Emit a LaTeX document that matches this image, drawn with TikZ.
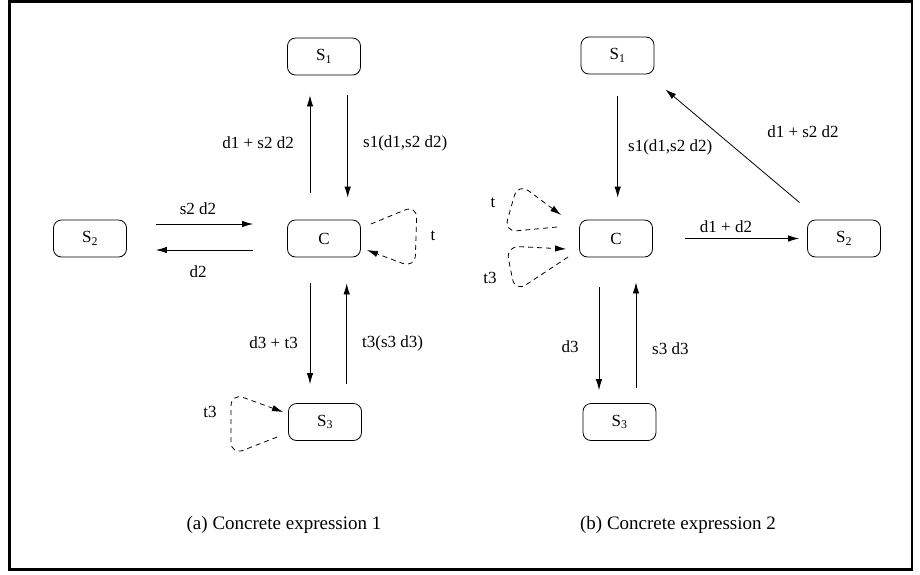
\documentclass[tikz,border=0pt]{standalone}
\usepackage{fontspec}
\setmainfont{Liberation Serif}
\usetikzlibrary{arrows.meta,calc}
\begin{document}
\begin{tikzpicture}[x=1pt,y=-1pt,
  every node/.style={font=\fontsize{17}{20}\selectfont},
  state/.style={draw,line width=0.8pt,rounded corners=8pt,minimum width=73pt,minimum height=37pt,inner sep=0pt},
  arr/.style={line width=0.8pt,-{Latex[length=11pt,width=6.5pt]}},
  loopline/.style={line width=0.8pt,dash pattern=on 5pt off 4pt,rounded corners=13pt,-{Latex[length=11pt,width=6.5pt]}},
  lbl/.style={inner sep=0pt},
  captext/.style={inner sep=0pt,font=\fontsize{19}{22}\selectfont}]
\useasboundingbox (0,0) rectangle (920,574);
\draw[line width=2.6pt] (9.5,1.5) rectangle (912,569.5);

% ---------- left panel ----------
\node[state] (S1L) at (324,56.5) {S\textsubscript{1}};
\node[state] (CL) at (324,238.5) {C};
\node[state] (S2L) at (90,238.5) {S\textsubscript{2}};
\node[state] (S3L) at (325,422) {S\textsubscript{3}};

\draw[arr,shorten <=27pt,shorten >=20pt] ([xshift=-14pt]CL.north) -- ([xshift=-14pt]CL.north |- S1L.south);
\draw[arr,shorten <=20pt,shorten >=22pt] ([xshift=23.7pt]S1L.south) -- ([xshift=23.7pt]S1L.south |- CL.north);
\draw[arr,shorten <=29pt,shorten >=34pt] ([yshift=14.5pt]S2L.east) -- ([yshift=14.5pt]S2L.east -| CL.west);
\draw[arr,shorten <=34pt,shorten >=29pt] ([yshift=-11.5pt]CL.west) -- ([yshift=-11.5pt]CL.west -| S2L.east);
\draw[arr,shorten <=26pt,shorten >=19pt] ([xshift=-14pt]CL.south) -- ([xshift=-14pt]CL.south |- S3L.north);
\draw[arr,shorten <=19pt,shorten >=26pt] ([xshift=22.7pt]CL.south |- S3L.north) -- ([xshift=22.7pt]CL.south);

\node[lbl,anchor=east] (l1) at (294,143) {d1 + s2 d2};
\node[lbl,anchor=west] (l2) at (363,143) {s1(d1,s2 d2)};
\node[lbl] (l3) at (198,209) {s2 d2};
\node[lbl] (l4) at (198,272) {d2};
\node[lbl,anchor=east] (l5) at (298,343) {d3 + t3};
\node[lbl,anchor=west] (l6) at (362,343) {t3(s3 d3)};
\node[lbl] (l7) at (433,236) {t};
\node[lbl] (l8) at (210,412) {t3};

\draw[loopline] ([shift={(10,-14.5)}]CL.east) -- (417,205) -- (415,268) -- ([shift={(6,11.5)}]CL.east);
\draw[loopline] ([shift={(-11,15)}]S3L.west) -- (231,455) -- (231,393) -- ([shift={(-5,-10)}]S3L.west);

\node[captext] (capa) at (284,525) {(a) Concrete expression 1};

% ---------- right panel ----------
\node[state] (S1R) at (617.5,55.5) {S\textsubscript{1}};
\node[state] (CR) at (616,238.5) {C};
\node[state] (S2R) at (844,238.5) {S\textsubscript{2}};
\node[state] (S3R) at (619.5,422) {S\textsubscript{3}};

\draw[arr,shorten <=22pt,shorten >=22pt] ([xshift=0.2pt]S1R.south) -- ([xshift=0.2pt]S1R.south |- CR.north);
\draw[arr] ([shift={(-7.5,-17)}]S2R.north west) -- ([shift={(11,15)}]S1R.south east);
\draw[arr,shorten <=32pt,shorten >=8pt] (CR.east) -- (CR.east -| S2R.west);
\draw[arr,shorten <=30pt,shorten >=13pt] ([xshift=-17pt]CR.south) -- ([xshift=-17pt]CR.south |- S3R.north);
\draw[arr,shorten <=15pt,shorten >=25pt] ([xshift=20pt]CR.south |- S3R.north) -- ([xshift=20pt]CR.south);

\node[lbl,anchor=west] (r1) at (628,147) {s1(d1,s2 d2)};
\node[lbl] (r2) at (803,132) {d1 + s2 d2};
\node[lbl] (r3) at (726,227) {d1 + d2};
\node[lbl] (r4) at (570,347) {d3};
\node[lbl,anchor=west] (r5) at (652,349) {s3 d3};
\node[lbl] (r6) at (493,203) {t};
\node[lbl] (r7) at (490,278) {t3};

\draw[loopline] ([shift={(-22,-11.5)}]CR.west) -- (504,232) -- (518,183) -- ([shift={(-18,-23.5)}]CR.west);
\draw[loopline] ([shift={(-11,18.5)}]CR.west) -- (515,292) -- (506,246) -- ([shift={(-13,10.5)}]CR.west);

\node[captext] (capb) at (678,525) {(b) Concrete expression 2};
\end{tikzpicture}
\end{document}
